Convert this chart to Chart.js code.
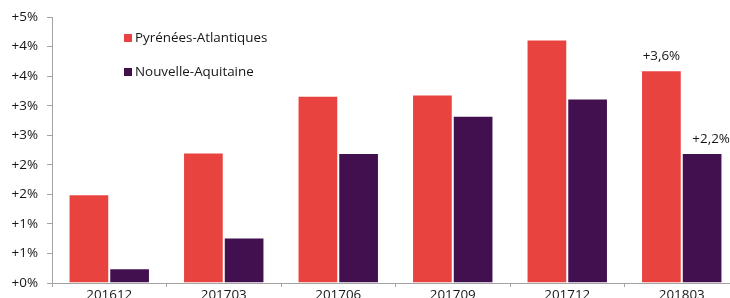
<!DOCTYPE html>
<html>
<head>
<meta charset="utf-8">
<script src="https://cdn.jsdelivr.net/npm/chart.js@4/dist/chart.umd.min.js"></script>
<style>
  html, body { margin: 0; padding: 0; background: #fff; overflow: hidden; width: 730px; height: 298px; }
  #wrap { position: absolute; left: 0; top: 0; width: 740px; height: 306px; }
</style>
</head>
<body>
<div id="wrap"><canvas id="chart"></canvas></div>
<script>
// data
const categories   = ['201612', '201703', '201706', '201709', '201712', '201803'];
const pyrenees     = [1.5, 2.21, 3.17, 3.19, 4.12, 3.6];
const aquitaine    = [0.25, 0.77, 2.2, 2.83, 3.12, 2.2];
const seriesNames  = ['Pyrénées-Atlantiques', 'Nouvelle-Aquitaine'];
const yTickLabels  = ['+0%', '+1%', '+1%', '+2%', '+2%', '+3%', '+3%', '+4%', '+4%', '+5%'];
const lastLabels   = ['+3,6%', '+2,2%'];

const RED    = '#e8433f';
const PURPLE = '#43104f';
const FONT   = "'Open Sans', sans-serif";
const TEXT   = '#161616';
const AXIS   = '#a3a3a3';

// legend drawn inside the plot area, top left
const insideLegend = {
  id: 'insideLegend',
  afterDraw(chart) {
    const ctx = chart.ctx;
    ctx.save();
    ctx.font = '13.4px ' + FONT;
    ctx.textBaseline = 'middle';
    chart.data.datasets.forEach((ds, i) => {
      const y = 38 + i * 34;
      ctx.fillStyle = ds.backgroundColor;
      ctx.fillRect(124, y - 4, 8, 8);
      ctx.fillStyle = TEXT;
      ctx.fillText(ds.label, 135, y);
    });
    ctx.restore();
  }
};

// value labels on the last group
const lastValues = {
  id: 'lastValues',
  afterDatasetsDraw(chart) {
    const ctx = chart.ctx;
    ctx.save();
    ctx.font = '13.4px ' + FONT;
    ctx.fillStyle = TEXT;
    ctx.textAlign = 'center';
    ctx.textBaseline = 'bottom';
    const shift = [0, 9];
    chart.data.datasets.forEach((ds, i) => {
      const meta = chart.getDatasetMeta(i);
      const bar = meta.data[meta.data.length - 1];
      ctx.fillText(lastLabels[i], bar.x + shift[i], bar.y - 7);
    });
    ctx.restore();
  }
};

new Chart(document.getElementById('chart'), {
  type: 'bar',
  data: {
    labels: categories,
    datasets: [
      { label: seriesNames[0], data: pyrenees,  backgroundColor: RED,
        borderColor: 'rgba(255,255,255,0.3)', borderWidth: 1 },
      { label: seriesNames[1], data: aquitaine, backgroundColor: PURPLE,
        borderColor: 'rgba(255,255,255,0.25)', borderWidth: 1 }
    ]
  },
  options: {
    responsive: true,
    maintainAspectRatio: false,
    animation: false,
    categoryPercentage: 0.711,
    barPercentage: 1.0,
    layout: { padding: { top: 16, right: 1, left: 0, bottom: 0 } },
    plugins: {
      legend: { display: false },
      tooltip: { enabled: false }
    },
    scales: {
      x: {
        grid: { offset: true, drawOnChartArea: false, tickLength: 4, color: AXIS },
        border: { color: AXIS, width: 1 },
        ticks: { font: { family: FONT, size: 13.4 }, color: TEXT, padding: 0, maxRotation: 0 },
        afterFit: s => { s.height = 23; }
      },
      y: {
        min: 0,
        max: 4.5,
        grid: { drawOnChartArea: false, tickLength: 5, color: AXIS },
        border: { color: AXIS, width: 1 },
        ticks: {
          stepSize: 0.5,
          font: { family: FONT, size: 13.4 },
          color: TEXT,
          padding: 9,
          callback: (v, i) => yTickLabels[i]
        },
        afterFit: s => { s.width = 52; }
      }
    }
  },
  plugins: [insideLegend, lastValues]
});
</script>
</body>
</html>
